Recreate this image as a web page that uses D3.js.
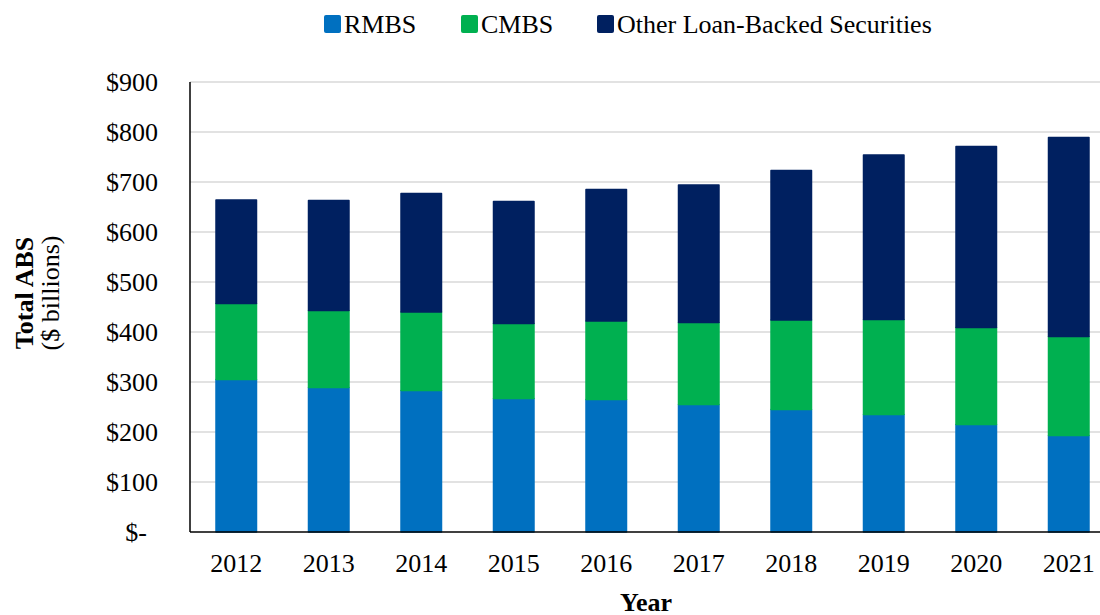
<!DOCTYPE html>
<html>
<head>
<meta charset="utf-8">
<script src="https://cdn.jsdelivr.net/npm/d3@7"></script>
<style>
  body { margin: 0; background: #fff; }
  text { font-family: "Liberation Serif", "Times New Roman", serif; fill: #000; }
</style>
</head>
<body>
<svg id="chart"></svg>
<script>
// data ($ billions)
const years = ["2012","2013","2014","2015","2016","2017","2018","2019","2020","2021"];
const rmbs  = [305, 289, 283, 267, 265, 255, 245, 235, 215, 193];
const cmbs  = [152, 154, 157, 150, 157, 164, 179, 190, 194, 198];
const other = [207, 220, 237, 244, 263, 275, 299, 329, 362, 398];
const seriesNames = ["RMBS", "CMBS", "Other Loan-Backed Securities"];
const yTicks = [0, 100, 200, 300, 400, 500, 600, 700, 800, 900];

const colors = ["#0070C0", "#00B050", "#002060"];
const svgWidth = 1100, svgHeight = 615;
const margin = {top: 82, right: -15, bottom: 83, left: 190};
const plotBottom = svgHeight - margin.bottom,
    plotRight = svgWidth - margin.right;

const chart = d3.select('#chart')
    .attr("width", svgWidth)
    .attr("height", svgHeight);

var xScale = d3.scaleBand().domain(years)
    .range([margin.left, plotRight])
    .paddingInner(0.546).paddingOuter(0.273);
var yScale = d3.scaleLinear().domain([0, 900]).range([plotBottom, margin.top]);

// gridlines
chart.append("g")
    .selectAll("line")
    .data(yTicks.filter(d => d > 0))
    .join("line")
    .attr("x1", margin.left).attr("x2", svgWidth)
    .attr("y1", d => yScale(d)).attr("y2", d => yScale(d))
    .attr("stroke", "#d9d9d9").attr("stroke-width", 1.5);

// stacked bars
const rows = years.map((y, i) => ({year: y, RMBS: rmbs[i], CMBS: cmbs[i], "Other Loan-Backed Securities": other[i]}));
const stacked = d3.stack().keys(seriesNames)(rows);

chart.append("g")
    .selectAll("g")
    .data(stacked)
    .join("g")
    .attr("fill", (d, i) => colors[i])
    .attr("stroke", (d, i) => colors[i])
    .selectAll("rect")
    .data(d => d)
    .join("rect")
    .attr("x", d => xScale(d.data.year) + 0.75)
    .attr("width", xScale.bandwidth() - 1.5)
    .attr("y", d => yScale(d[1]))
    .attr("height", d => yScale(d[0]) - yScale(d[1]))
    .attr("stroke-width", 1.5)
    .attr("stroke-linejoin", "round");

// axes
var yAxis = d3.axisLeft(yScale).tickValues(yTicks).tickSize(0).tickPadding(32)
    .tickFormat(d => d === 0 ? "$-" : "$" + d);
const yG = chart.append("g")
    .attr("transform", `translate(${margin.left},0)`)
    .call(yAxis);
yG.select(".domain").remove();
yG.selectAll("text")
    .attr("font-size", 26)
    .attr("font-family", "Liberation Serif")
    .attr("dx", d => d === 0 ? -11 : 0);

var xAxis = d3.axisBottom(xScale).tickSize(0).tickPadding(22);
const xG = chart.append("g")
    .attr("transform", `translate(0,${plotBottom})`)
    .call(xAxis);
xG.select(".domain").remove();
xG.selectAll("text").attr("font-size", 26).attr("font-family", "Liberation Serif");

chart.append("line")
    .attr("x1", margin.left).attr("x2", margin.left)
    .attr("y1", margin.top).attr("y2", plotBottom)
    .attr("stroke", "#000").attr("stroke-width", 1.5);
chart.append("line")
    .attr("x1", margin.left).attr("x2", svgWidth)
    .attr("y1", plotBottom).attr("y2", plotBottom)
    .attr("stroke", "#000").attr("stroke-width", 1.5);

// axis titles
chart.append("text")
    .attr("x", 646).attr("y", 611)
    .attr("text-anchor", "middle")
    .attr("font-size", 26).attr("font-weight", "bold")
    .text("Year");
chart.append("text")
    .attr("transform", "translate(33,293) rotate(-90)")
    .attr("text-anchor", "middle")
    .attr("font-size", 26).attr("font-weight", "bold")
    .text("Total ABS");
chart.append("text")
    .attr("transform", "translate(59,293) rotate(-90)")
    .attr("text-anchor", "middle")
    .attr("font-size", 26)
    .text("($ billions)");

// legend
const legendX = [324, 461, 597];
const legend = chart.append("g")
    .selectAll("g")
    .data(seriesNames)
    .join("g")
    .attr("transform", (d, i) => `translate(${legendX[i]},0)`);
legend.append("rect")
    .attr("x", 0).attr("y", 15).attr("width", 17).attr("height", 18)
    .attr("rx", 2)
    .attr("fill", (d, i) => colors[i]);
legend.append("text")
    .attr("x", 20).attr("y", 33)
    .attr("font-size", 26)
    .text(d => d);
</script>
</body>
</html>
